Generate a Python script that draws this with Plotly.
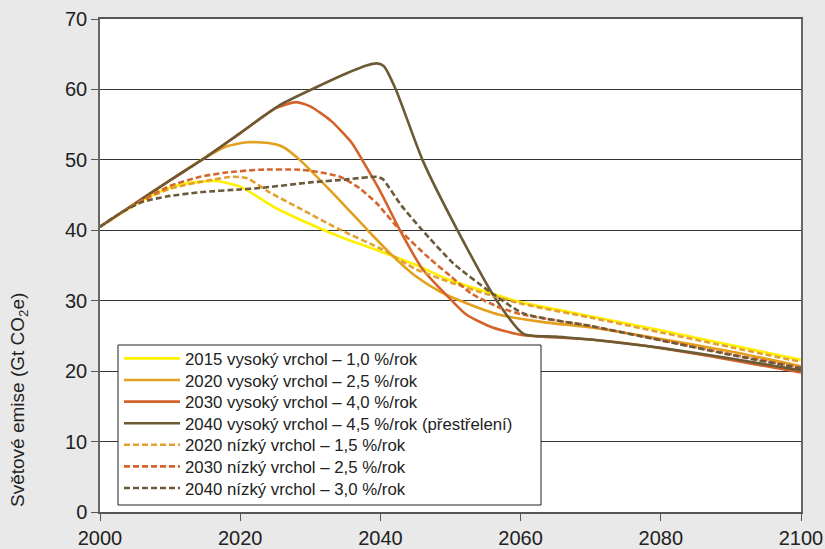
import plotly.graph_objects as go

# ---- data ----
names = [
    "2015 vysoký vrchol – 1,0 %/rok",
    "2020 vysoký vrchol – 2,5 %/rok",
    "2030 vysoký vrchol – 4,0 %/rok",
    "2040 vysoký vrchol – 4,5 %/rok (přestřelení)",
    "2020 nízký vrchol – 1,5 %/rok",
    "2030 nízký vrchol – 2,5 %/rok",
    "2040 nízký vrchol – 3,0 %/rok",
]

x_2015h = [2000, 2005, 2009, 2012, 2016.5, 2020, 2025, 2032, 2035, 2040, 2045, 2050, 2055, 2060, 2070, 2080, 2090, 2100]
y_2015h = [40.5, 43.6, 45.7, 46.6, 47.0, 46.2, 43.2, 40.0, 38.8, 37.0, 35.1, 32.9, 31.3, 29.8, 27.8, 25.8, 23.7, 21.6]

x_2020h = [2000, 2005, 2010, 2015, 2018, 2021, 2024, 2026, 2028.5, 2032.8, 2038.2, 2041.4, 2045, 2048.5, 2051.4, 2057, 2063, 2070, 2077, 2090, 2100]
y_2020h = [40.5, 43.8, 47.1, 50.3, 51.9, 52.5, 52.4, 51.9, 50.0, 45.7, 40.0, 36.7, 33.5, 31.3, 30.0, 28.0, 27.0, 26.2, 25.1, 22.8, 20.7]

x_2030h = [2000, 2005, 2010, 2015, 2020, 2025, 2028, 2030, 2033, 2036, 2037.4, 2040, 2042.8, 2046, 2050.2, 2052.3, 2056, 2060.4, 2070, 2077, 2090, 2100]
y_2030h = [40.5, 43.8, 47.1, 50.3, 53.8, 57.3, 58.2, 57.6, 55.5, 52.3, 50.0, 45.5, 40.0, 34.5, 30.0, 28.0, 26.2, 25.1, 24.5, 23.7, 21.6, 19.8]

x_2040h = [2000, 2005, 2010, 2015, 2020, 2025.7, 2030.4, 2035.2, 2038, 2039.5, 2040.5, 2042.2, 2046, 2051, 2056.6, 2060.4, 2065, 2070, 2080, 2090, 2100]
y_2040h = [40.5, 43.8, 47.1, 50.3, 53.8, 57.8, 60.1, 62.3, 63.4, 63.7, 63.3, 60.0, 50.0, 40.0, 30.0, 25.3, 24.9, 24.5, 23.3, 21.8, 20.1]

x_2020l = [2000, 2005, 2010, 2015, 2019, 2021, 2024, 2028.5, 2034, 2040.4, 2045, 2050, 2055, 2060, 2070, 2080, 2090, 2100]
y_2020l = [40.5, 43.7, 45.9, 47.0, 47.6, 47.4, 45.5, 43.1, 40.2, 37.2, 34.5, 32.6, 31.0, 29.6, 27.6, 25.5, 23.4, 21.3]

x_2030l = [2000, 2005, 2010, 2014.3, 2018, 2022.8, 2028.5, 2031, 2034.2, 2037, 2039.5, 2042.8, 2047, 2050, 2053, 2056.6, 2060, 2070, 2077, 2090, 2100]
y_2030l = [40.5, 43.7, 46.3, 47.6, 48.2, 48.6, 48.6, 48.3, 47.6, 46.0, 43.8, 40.0, 36.0, 33.5, 31.0, 29.2, 28.1, 26.4, 25.0, 22.4, 20.5]

x_2040l = [2000, 2003, 2006, 2009.5, 2014.3, 2020, 2022.8, 2030, 2035, 2039.5, 2040.3, 2043, 2046, 2050.4, 2055.6, 2060.4, 2070, 2077, 2090, 2100]
y_2040l = [40.5, 42.5, 44.0, 44.8, 45.4, 45.8, 46.0, 46.8, 47.2, 47.6, 47.3, 43.5, 40.0, 35.3, 31.3, 28.2, 26.4, 25.0, 22.3, 20.4]

xs = [x_2015h, x_2020h, x_2030h, x_2040h, x_2020l, x_2030l, x_2040l]
ys = [y_2015h, y_2020h, y_2030h, y_2040h, y_2020l, y_2030l, y_2040l]
colors = ["#fff000", "#e3a01e", "#d4622a", "#6b5a34", "#e3a030", "#d4662e", "#6b5a3a"]
dashes = ["solid", "solid", "solid", "solid", "6px,3px", "6px,3px", "6px,3px"]

y_ticks = [0, 10, 20, 30, 40, 50, 60, 70]
x_ticks = [2000, 2020, 2040, 2060, 2080, 2100]

# plot-area geometry (pixels) used to position the legend rows
PX_L, PX_R, PX_T, PX_B = 100, 801, 19, 512
W, H = 825, 549


def px_to_paper_x(px):
    return (px - PX_L) / (PX_R - PX_L)


def px_to_paper_y(py):
    return (PX_B - py) / (PX_B - PX_T)


fig = go.Figure()
legend_ids = ["legend"] + ["legend%d" % k for k in range(2, 8)]
for i in range(7):
    fig.add_trace(go.Scatter(
        x=xs[i], y=ys[i], name=names[i], mode="lines",
        line=dict(color=colors[i], width=2.6, dash=dashes[i], shape="spline", smoothing=0.6),
        legend=legend_ids[i],
    ))

# legend box
fig.add_shape(type="rect", xref="paper", yref="paper",
              x0=px_to_paper_x(118), x1=px_to_paper_x(541),
              y0=px_to_paper_y(505), y1=px_to_paper_y(345),
              fillcolor="white", line=dict(color="#222", width=1), layer="above")

layout_legends = {}
for i, lid in enumerate(legend_ids):
    row_y = 358.5 + 21.6 * i
    layout_legends[lid] = dict(
        x=px_to_paper_x(119), y=px_to_paper_y(row_y), xanchor="left", yanchor="middle",
        bgcolor="rgba(0,0,0,0)", borderwidth=0,
        font=dict(size=16.8, color="#222"),
        itemwidth=56,
    )

fig.update_layout(
    width=W, height=H,
    margin=dict(l=PX_L, r=W - PX_R, t=PX_T, b=H - PX_B, autoexpand=False),
    paper_bgcolor="#e9e9e9",
    plot_bgcolor="white",
    font=dict(family="Liberation Sans, Arial, sans-serif", color="#222", size=17),
    showlegend=True,
    xaxis=dict(
        range=[2000, 2100], tickvals=x_ticks, ticktext=[str(v) for v in x_ticks],
        showgrid=False, zeroline=False, automargin=False,
        showline=True, linecolor="#555", linewidth=1.5, mirror=True,
        ticks="outside", ticklen=7, tickcolor="#555", tickwidth=1.2,
        tickfont=dict(size=20),
    ),
    yaxis=dict(
        range=[0, 70], tickvals=y_ticks, ticktext=[str(v) for v in y_ticks],
        showgrid=True, gridcolor="#333", gridwidth=1.3, zeroline=False, automargin=False,
        showline=True, linecolor="#666", linewidth=1.5, mirror=True,
        ticks="outside", ticklen=7, tickcolor="#555", tickwidth=1.2,
        tickfont=dict(size=20),
    ),
    annotations=[dict(
        text="Světové emise (Gt CO<sub>2</sub>e)", xref="paper", yref="paper",
        x=px_to_paper_x(19), y=px_to_paper_y(400), xanchor="center", yanchor="middle",
        textangle=-90, showarrow=False, font=dict(size=19, color="#222"),
    )],
    **layout_legends,
)

fig.write_html(
    "out.html",
    config={"displayModeBar": False},
    post_script="document.body.style.margin='0px';document.body.style.background='#e9e9e9';",
)
